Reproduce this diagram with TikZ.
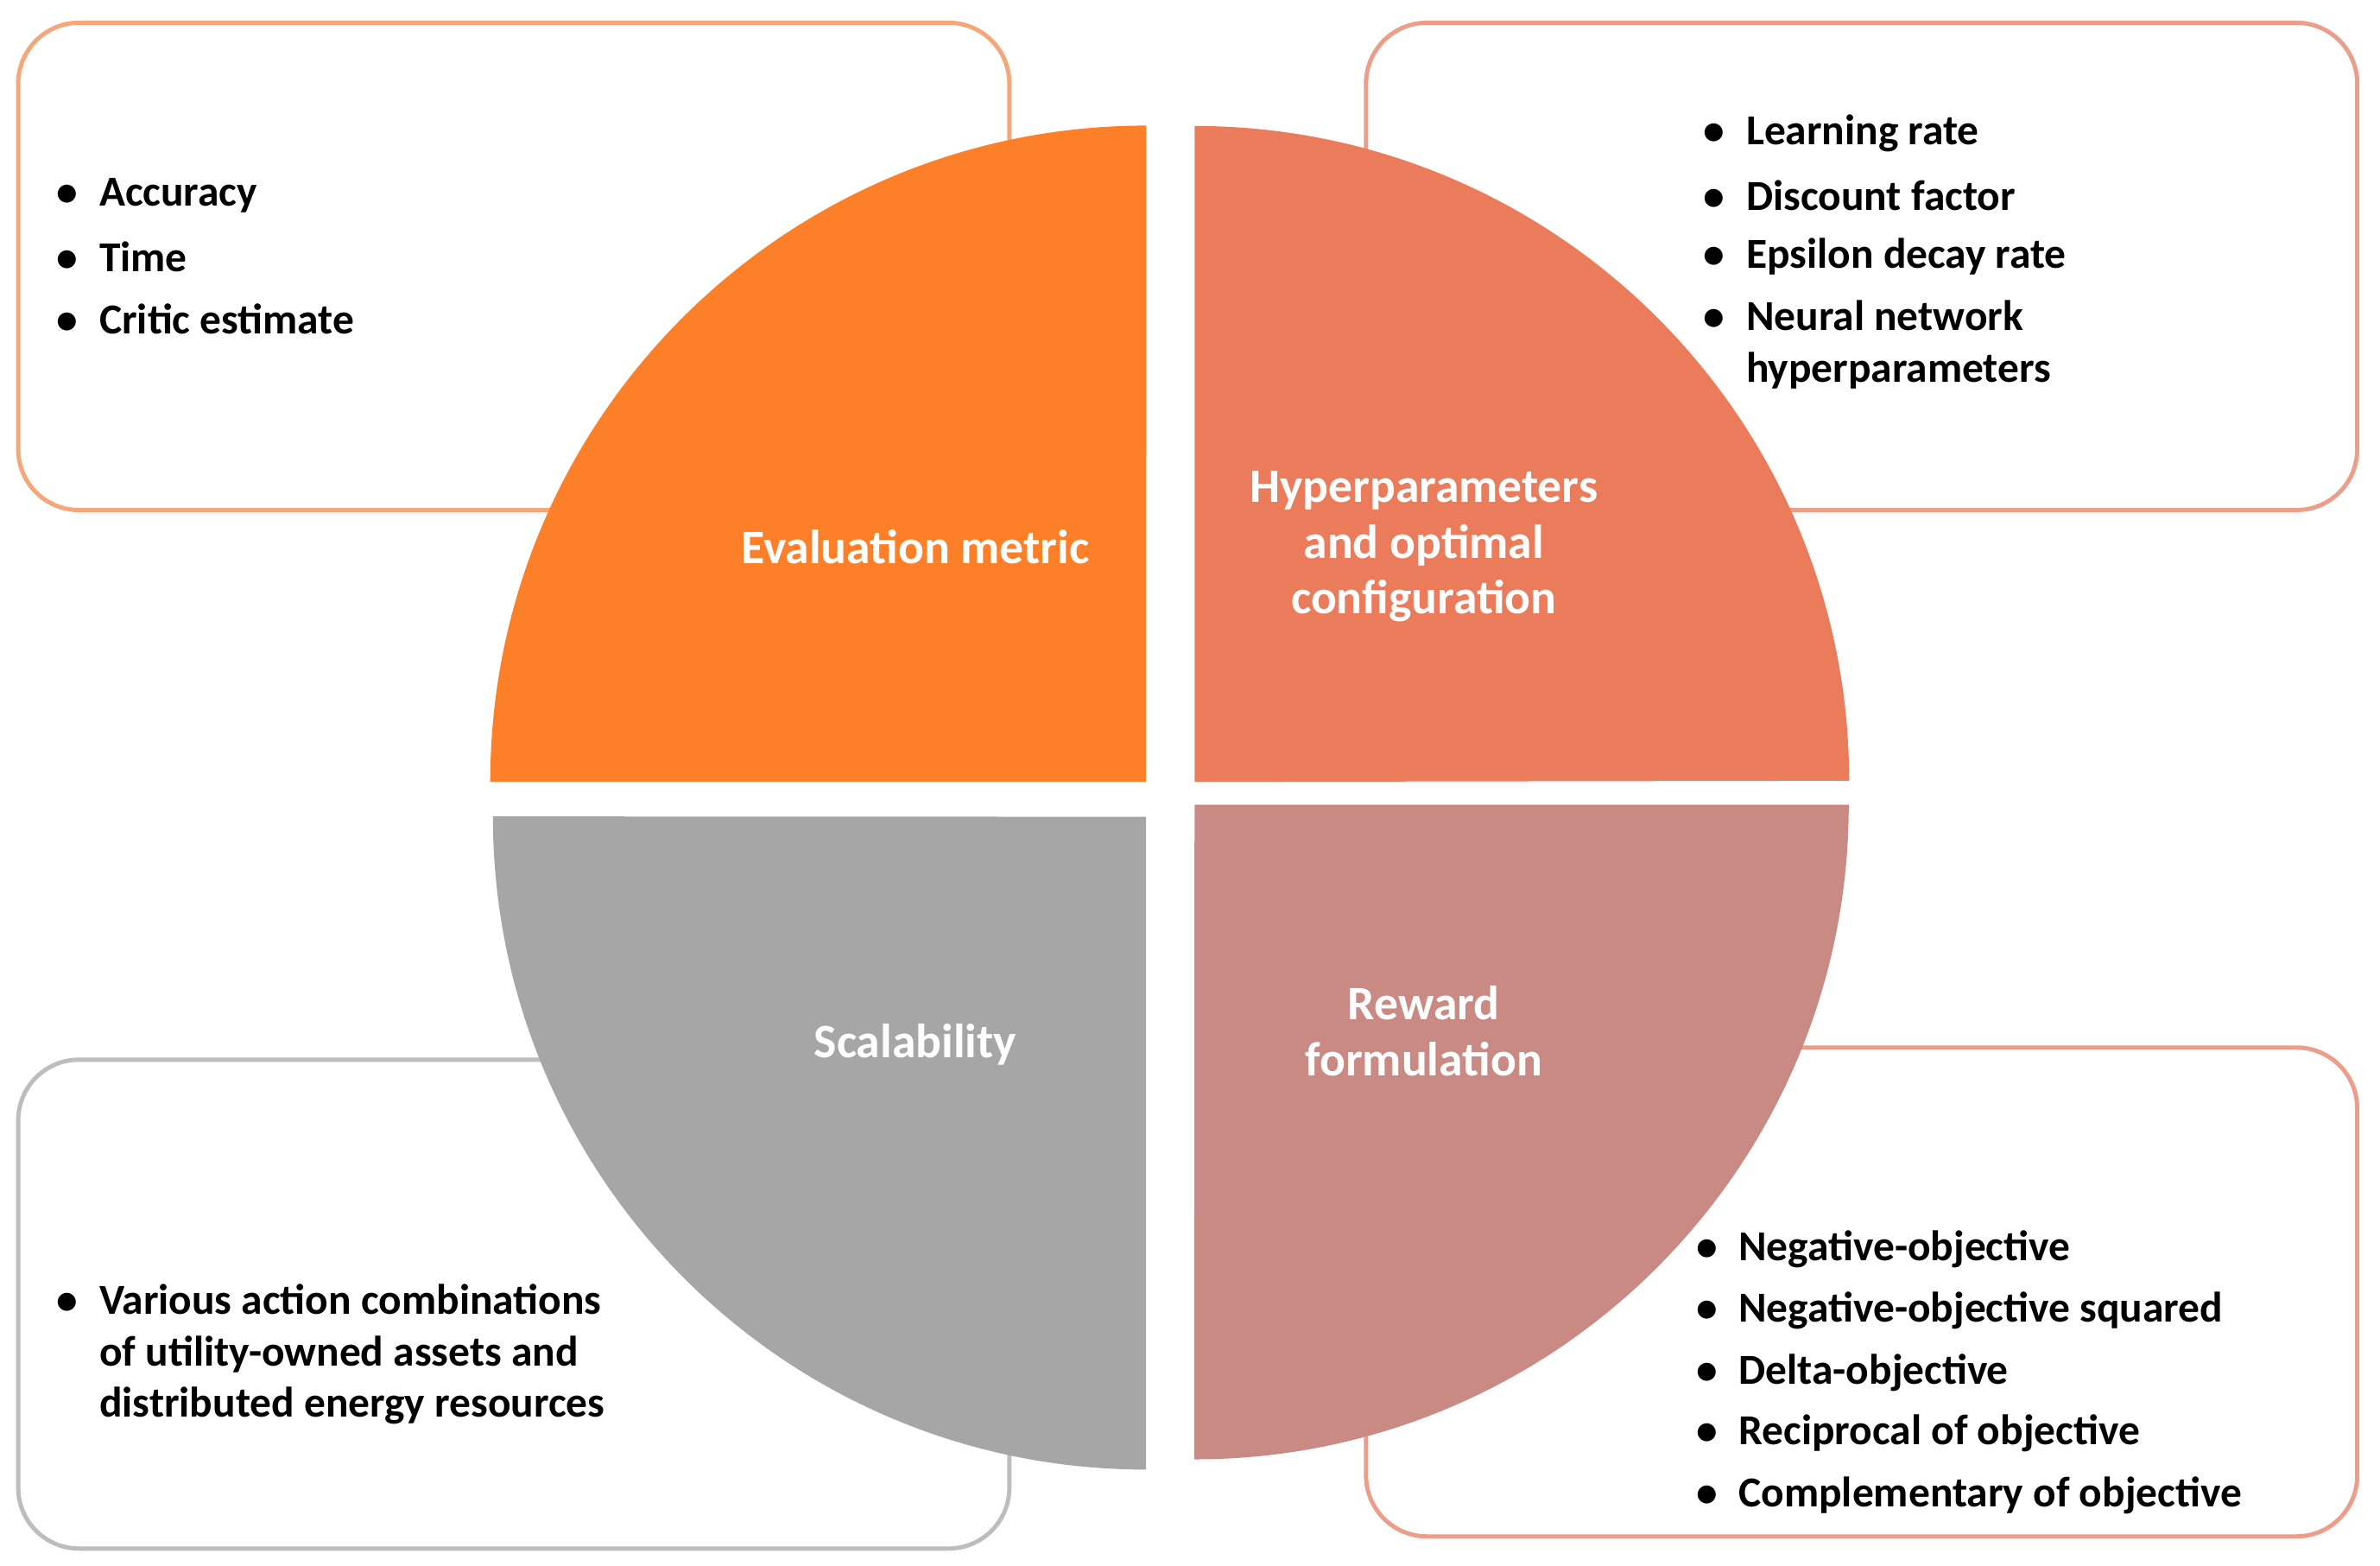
\documentclass[tikz,border=0pt]{standalone}
\usepackage{fontspec}
\setmainfont{Carlito}
\begin{document}
\begin{tikzpicture}[x=0.01cm,y=-0.01cm,
  box/.style={rounded corners=0.4cm,line width=0.8pt},
  lbl/.style={text=white,font=\bfseries\fontsize{9}{10.5}\selectfont,align=center},
  bl/.style={anchor=west,font=\bfseries\fontsize{8}{9.6}\selectfont,align=left}]
\definecolor{cOr}{HTML}{FD7F27}
\definecolor{cHy}{HTML}{EA7C5B}
\definecolor{cRe}{HTML}{C98A84}
\definecolor{cGr}{HTML}{A6A6A6}
\definecolor{bOr}{HTML}{F6A77A}
\definecolor{bRe}{HTML}{EC9E8A}
\definecolor{bGr}{HTML}{BDBDBD}
\useasboundingbox (0,0) rectangle (1568,1031);
\fill[white] (0,0) rectangle (1568,1031);
\draw[box,bOr] (12,15) rectangle (665,336);
\draw[box,bRe] (900,15) rectangle (1553,336);
\draw[box,bGr] (12,698) rectangle (665,1020);
\draw[box,bRe] (900,690) rectangle (1553,1012);
\fill[cOr] (755,515) -- (323,515) arc[start angle=180,end angle=90,radius=4.32cm] -- cycle;
\fill[cHy] (787,515) -- (787,83) arc[start angle=90,end angle=0,radius=4.31cm] -- cycle;
\fill[cGr] (755,538) -- (755,968) arc[start angle=-90,end angle=-180,radius=4.30cm] -- cycle;
\fill[cRe] (787,530) -- (1218,530) arc[start angle=0,end angle=-90,radius=4.31cm] -- cycle;
\node[lbl] (em) at (603,360) {Evaluation metric};
\node[lbl] (hp) at (938,360) {Hyperparameters\\and optimal\\configuration};
\node[lbl] (sc) at (603,688) {Scalability};
\node[lbl] (rf) at (938,679) {Reward\\formulation};
\node[bl] (a1) at (25,129) {•\hspace{0.5em}Accuracy};
\node[bl] (a2) at (25,169) {•\hspace{0.5em}Time};
\node[bl] (a3) at (25,210) {•\hspace{0.5em}Critic estimate};
\node[bl] (b1) at (1110,88) {•\hspace{0.5em}Learning rate};
\node[bl] (b2) at (1110,129) {•\hspace{0.5em}Discount factor};
\node[bl] (b3) at (1110,169) {•\hspace{0.5em}Epsilon decay rate};
\node[bl] (b4) at (1110,227) {•\hspace{0.5em}Neural network\\\phantom{•}\hspace{0.5em}hyperparameters};
\node[bl] (c1) at (25,892) {•\hspace{0.5em}Various action combinations\\\phantom{•}\hspace{0.5em}of utility-owned assets and\\\phantom{•}\hspace{0.5em}distributed energy resources};
\node[bl] (d1) at (1105,823) {•\hspace{0.5em}Negative-objective};
\node[bl] (d2) at (1105,863) {•\hspace{0.5em}Negative-objective squared};
\node[bl] (d3) at (1105,904) {•\hspace{0.5em}Delta-objective};
\node[bl] (d4) at (1105,944) {•\hspace{0.5em}Reciprocal of objective};
\node[bl] (d5) at (1105,985) {•\hspace{0.5em}Complementary of objective};
\end{tikzpicture}
\end{document}
